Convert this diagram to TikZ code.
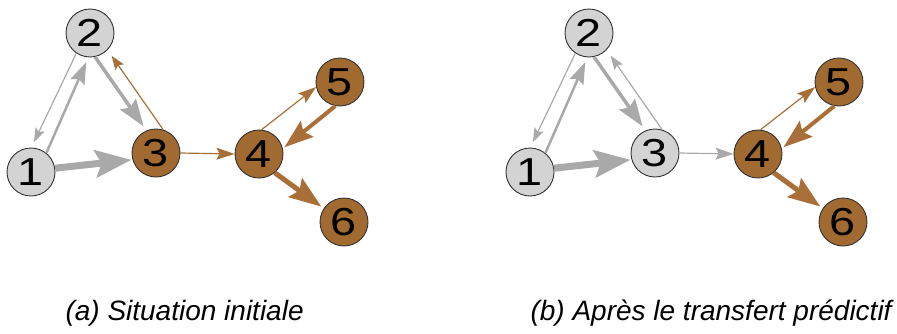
\documentclass[tikz,border=0pt]{standalone}
\usepackage{fontspec}
\setmainfont{Liberation Sans}
\newfontfamily\numfont[FakeStretch=1.2]{Liberation Sans}
\usetikzlibrary{arrows.meta}

\definecolor{vertgray}{HTML}{D3D3D3}
\definecolor{arcgray}{HTML}{A9A9A9}
\definecolor{vertbrown}{RGB}{161,106,48}
\definecolor{arcbrown}{RGB}{168,112,56}

\begin{document}
\begin{tikzpicture}[
    x=1pt, y=-1pt,
    vert/.style={circle, draw=black!80, line width=0.9pt, minimum size=48pt,
                 inner sep=0pt, font=\fontsize{39}{39}\selectfont\numfont},
    grayv/.style={vert, fill=vertgray},
    brownv/.style={vert, fill=vertbrown},
    arcA/.style={line width=1.2pt, -{Stealth[length=14pt, width=10pt, inset=2.5pt]}},
    arcB/.style={line width=1.2pt, -{Stealth[length=18pt, width=12pt, inset=3pt]}},
    arcC/.style={line width=2.5pt, -{Stealth[length=22pt, width=15pt, inset=3.5pt]}},
    arcD/.style={line width=3.5pt, -{Stealth[length=27pt, width=19pt, inset=4pt]}},
    arcE/.style={line width=4pt, -{Stealth[length=29pt, width=20pt, inset=4.5pt]}},
    arcF/.style={line width=5pt, -{Stealth[length=32pt, width=23pt, inset=5pt]}},
    arcG/.style={line width=7pt, -{Stealth[length=36pt, width=27pt, inset=6pt]}},
    caption/.style={anchor=base west, font=\fontsize{28}{28}\selectfont\itshape}
]
    \useasboundingbox (0,0) rectangle (897,333);

    % (a) initial situation
    \begin{scope}
        \node[grayv]  (a1) at (31,172)  {1};
        \node[grayv]  (a2) at (90,33)   {2};
        \node[brownv] (a3) at (156,153) {3};
        \node[brownv] (a4) at (259,154) {4};
        \node[brownv] (a5) at (340,82)  {5};
        \node[brownv] (a6) at (344,222) {6};

        \draw[arcgray, arcA, shorten >=6pt] (a2.236) -- (a1.89);
        \draw[arcgray, arcC, shorten >=5pt] (a1.51) -- (a2.266);
        \draw[arcgray, arcD, shorten >=5pt] (a2.282) -- (a3.113);
        \draw[arcbrown, arcA, shorten >=7pt] (a3.73) -- (a2.316);
        \draw[arcgray, arcG, shorten >=1pt] (a1.9) -- (a3.196);
        \draw[arcbrown, arcB] (a3.0) -- (a4.180);
        \draw[arcbrown, arcB] (a4.84) -- (a5.192);
        \draw[arcbrown, arcE, shorten >=2pt] (a5.259) -- (a4.13);
        \draw[arcbrown, arcF, shorten >=3pt] (a4.310) -- (a6.146);
    \end{scope}

    % (b) after the transfer
    \begin{scope}[xshift=499pt]
        \node[grayv]  (b1) at (31,172)  {1};
        \node[grayv]  (b2) at (90,33)   {2};
        \node[grayv]  (b3) at (156,153) {3};
        \node[brownv] (b4) at (259,154) {4};
        \node[brownv] (b5) at (340,82)  {5};
        \node[brownv] (b6) at (344,222) {6};

        \draw[arcgray, arcA, shorten >=6pt] (b2.236) -- (b1.89);
        \draw[arcgray, arcC, shorten >=5pt] (b1.51) -- (b2.266);
        \draw[arcgray, arcD, shorten >=5pt] (b2.282) -- (b3.113);
        \draw[arcgray, arcA, shorten >=7pt] (b3.73) -- (b2.316);
        \draw[arcgray, arcG, shorten >=1pt] (b1.9) -- (b3.196);
        \draw[arcgray, arcB] (b3.0) -- (b4.180);
        \draw[arcbrown, arcB] (b4.84) -- (b5.192);
        \draw[arcbrown, arcE, shorten >=2pt] (b5.259) -- (b4.13);
        \draw[arcbrown, arcF, shorten >=3pt] (b4.310) -- (b6.146);
    \end{scope}

    % captions
    \node[caption] (capa) at (62,320)  {(a) Situation initiale};
    \node[caption] (capb) at (527,320) {(b) Après le transfert prédictif};

\end{tikzpicture}
\end{document}
